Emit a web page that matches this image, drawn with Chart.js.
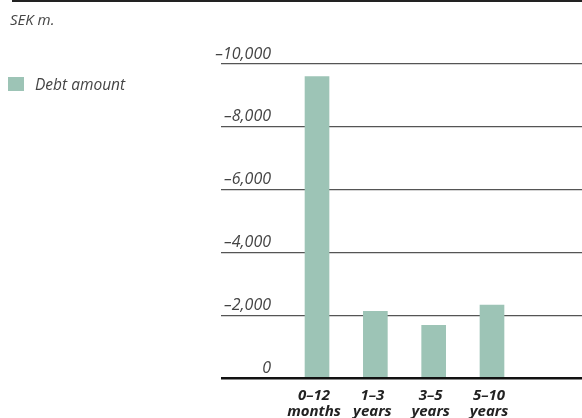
<!DOCTYPE html>
<html>
<head>
<meta charset="utf-8">
<script src="https://cdn.jsdelivr.net/npm/chart.js@4/dist/chart.umd.min.js"></script>
<style>
  html, body { margin: 0; padding: 0; background: #fff; }
  #wrap { position: relative; width: 582px; height: 418px; font-family: "Open Sans", sans-serif; }
  #rule { position: absolute; z-index: 2; left: 12px; top: 0; width: 570px; height: 2px; background: #222; }
  #unit { position: absolute; z-index: 2; left: 10px; top: 9px; font-size: 15px; font-style: italic; color: #444; }
  #legend { position: absolute; z-index: 2; left: 8px; top: 73px; font-size: 15.5px; font-style: italic; color: #444; display: flex; align-items: center; }
  #legend span.box { width: 16px; height: 14px; margin-right: 11px; display: inline-block; }
  canvas { position: absolute; left: 0; top: 0; z-index: 1; }
</style>
</head>
<body>
<div id="wrap">
  <div id="rule"></div>
  <div id="unit">SEK m.</div>
  <div id="legend"></div>
  <canvas id="debtChart" width="582" height="418"></canvas>
</div>
<script>
const categories = [['0–12', 'months'], ['1–3', 'years'], ['3–5', 'years'], ['5–10', 'years']];
const debtAmount = [-9600, -2120, -1680, -2320];
const yTicks = [-10000, -8000, -6000, -4000, -2000, 0];

const barColor = '#9dc4b6';

// legend drawn in html
const legend = document.getElementById('legend');
legend.innerHTML = '<span class="box" style="background:' + barColor + '"></span>Debt amount';

const fmt = v => v === 0 ? '0' : '–' + Math.abs(v).toLocaleString('en-US');
const isZero = c => c.tick && c.tick.value === 0;

const ctx = document.getElementById('debtChart').getContext('2d');
const debtChart = new Chart(ctx, {
  type: 'bar',
  data: {
    datasets: [{
      label: 'Debt amount',
      data: debtAmount.map((v, i) => ({ x: i, y: v })),
      backgroundColor: barColor,
      barThickness: 24,
    }],
  },
  options: {
    responsive: false,
    animation: false,
    layout: { padding: { top: 64, right: 0, bottom: 0, left: 0 } },
    plugins: {
      legend: { display: false },
      tooltip: { enabled: false },
    },
    scales: {
      x: {
        type: 'linear',
        offset: false,
        min: -0.789,
        max: 4.543,
        grid: { display: false, drawTicks: false },
        border: { display: false },
        afterBuildTicks: axis => { axis.ticks = categories.map((c, i) => ({ value: i })); },
        afterFit: axis => { axis.height = 40; },
        ticks: {
          autoSkip: false,
          maxRotation: 0,
          padding: 9,
          labelOffset: -3,
          color: '#222',
          font: { family: 'Open Sans', size: 15, style: 'italic', weight: 'bold', lineHeight: 1.1 },
          callback: value => categories[value],
        },
      },
      y: {
        reverse: true,
        min: -10000,
        max: 0,
        grid: {
          // ticks run left of the plot so the rules reach under the labels
          drawTicks: true,
          tickLength: 50,
          color: c => isZero(c) ? '#111' : '#555',
          lineWidth: c => isZero(c) ? 2.6 : 1.2,
        },
        border: { display: false },
        afterBuildTicks: axis => { axis.ticks = yTicks.map(v => ({ value: v })); },
        afterFit: axis => { axis.width = 271; },
        ticks: {
          padding: -50,
          labelOffset: -10,
          color: '#444',
          font: { family: 'Open Sans', size: 16, style: 'italic' },
          callback: value => fmt(value),
        },
      },
    },
  },
});
</script>
</body>
</html>
